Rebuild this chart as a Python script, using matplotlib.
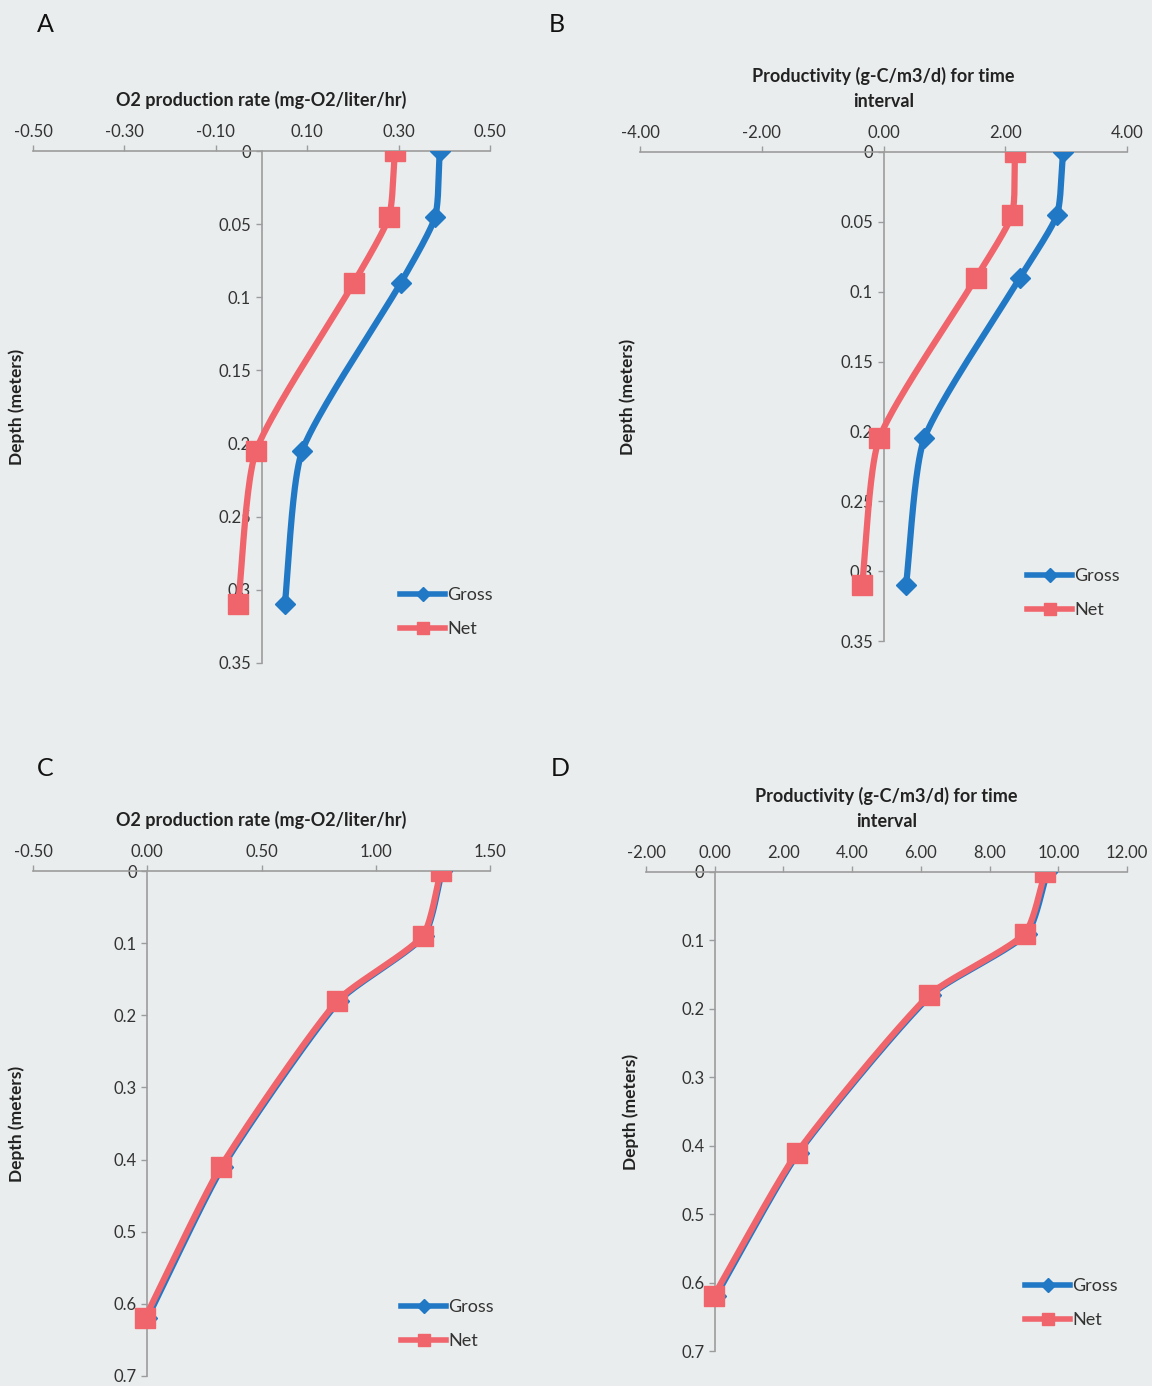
import numpy as np
import matplotlib
matplotlib.use('Agg')
import matplotlib.pyplot as plt
from matplotlib.lines import Line2D
from matplotlib.ticker import FuncFormatter

plt.rcParams['font.family'] = ['Lato', 'DejaVu Sans']

# depth of each sample (m); C/D profiles go twice as deep as A/B
depth_ab = [0, 0.045, 0.09, 0.205, 0.31]
depth_cd = [0, 0.09, 0.18, 0.41, 0.62]

# A: O2 production rate (mg-O2/liter/hr)
gross_a = [0.39, 0.38, 0.305, 0.089, 0.051]
net_a = [0.292, 0.279, 0.202, -0.012, -0.051]
# B: productivity (g-C/m3/d)
gross_b = [2.95, 2.85, 2.24, 0.67, 0.37]
net_b = [2.16, 2.11, 1.52, -0.07, -0.35]
# C: O2 production rate (mg-O2/liter/hr)
gross_c = [1.29, 1.21, 0.84, 0.33, 0.0]
net_c = [1.285, 1.205, 0.832, 0.322, -0.01]
# D: productivity (g-C/m3/d)
gross_d = [9.68, 9.08, 6.29, 2.44, 0.03]
net_d = [9.62, 9.02, 6.24, 2.40, -0.03]

xticks_a = [-0.5, -0.3, -0.1, 0.1, 0.3, 0.5]
xticks_b = [-4, -2, 0, 2, 4]
xticks_c = [-0.5, 0, 0.5, 1.0, 1.5]
xticks_d = [-2, 0, 2, 4, 6, 8, 10, 12]
yticks_ab = [0, 0.05, 0.1, 0.15, 0.2, 0.25, 0.3, 0.35]
yticks_cd = [0, 0.1, 0.2, 0.3, 0.4, 0.5, 0.6, 0.7]

title_o2 = 'O2 production rate (mg-O2/liter/hr)'
title_prod = 'Productivity (g-C/m3/d) for time\ninterval'

BLUE = '#2179c6'
RED = '#f0646c'
AXIS_GREY = '#9c9c9c'
BG = '#eaeded'

W, H = 1152, 1386
fig = plt.figure(figsize=(W / 100, H / 100), dpi=100, facecolor=BG)


def px_axes(x0, x1, y0, y1):
    # axes rectangle given in pixel coords of the picture (y from top)
    return fig.add_axes([x0 / W, 1 - y1 / H, (x1 - x0) / W, (y1 - y0) / H])


def smooth(ax, xs, ys, n=40, k=0.2):
    # excel-like smoothed line: bezier segments, gentle handles along the
    # neighbour direction, length a fraction of the segment
    pts = ax.transData.transform(np.column_stack([xs, ys]))
    p = np.vstack([pts[0], pts, pts[-1]])
    t = np.linspace(0, 1, n)[:, None]
    segs = []
    for i in range(1, len(p) - 2):
        p0, p1, p2, p3 = p[i - 1], p[i], p[i + 1], p[i + 2]
        d12 = np.hypot(*(p2 - p1))
        u1 = (p2 - p0) / np.hypot(*(p2 - p0))
        u2 = (p3 - p1) / np.hypot(*(p3 - p1))
        c1 = p1 + u1 * d12 * k
        c2 = p2 - u2 * d12 * k
        segs.append((1 - t) ** 3 * p1 + 3 * (1 - t) ** 2 * t * c1
                    + 3 * (1 - t) * t ** 2 * c2 + t ** 3 * p2)
    curve = ax.transData.inverted().transform(np.vstack(segs))
    return curve[:, 0], curve[:, 1]


def panel(rect, xlim, xticks, ylim, yticks, title, gross, net, depth, leg_px, ylab_x):
    ax = px_axes(*rect)
    ax.set_facecolor('none')
    ax.set_xlim(*xlim)
    ax.set_ylim(ylim, 0)
    ax.set_xticks(xticks)
    ax.set_yticks(yticks)
    ax.xaxis.set_major_formatter(FuncFormatter(lambda v, p: f'{v:.2f}'))
    ax.yaxis.set_major_formatter(FuncFormatter(lambda v, p: f'{v:g}'))
    ax.xaxis.tick_top()
    ax.xaxis.set_label_position('top')
    ax.spines['bottom'].set_visible(False)
    ax.spines['right'].set_visible(False)
    ax.spines['left'].set_position(('data', 0))
    for s in ('top', 'left'):
        ax.spines[s].set_color(AXIS_GREY)
        ax.spines[s].set_linewidth(1.2)
    ax.tick_params(axis='both', colors=AXIS_GREY, labelcolor='#333333',
                   labelsize=12, length=4, width=1)
    ax.tick_params(axis='x', pad=4)
    ax.set_xlabel(title, fontsize=13, fontweight='bold', labelpad=13,
                  linespacing=1.55, color='#222222')
    ax.set_ylabel('Depth (meters)', fontsize=12.5, fontweight='bold', color='#222222')
    ax.yaxis.set_label_coords(ylab_x, 0.5)

    gx, gy = smooth(ax, gross, depth)
    nx, ny = smooth(ax, net, depth)
    ax.plot(gx, gy, color=BLUE, lw=4.5, zorder=3, solid_capstyle='round')
    ax.plot(gross, depth, ls='none', marker='D', ms=10.5, color=BLUE, zorder=4)
    ax.plot(nx, ny, color=RED, lw=4.5, zorder=5, solid_capstyle='round')
    ax.plot(net, depth, ls='none', marker='s', ms=14, color=RED, zorder=6)

    handles = [Line2D([], [], color=BLUE, lw=4, marker='D', ms=7),
               Line2D([], [], color=RED, lw=4, marker='s', ms=9)]
    fig.legend(handles, ['Gross', 'Net'], loc='center left',
               bbox_to_anchor=(leg_px[0] / W, 1 - leg_px[1] / H),
               frameon=False, fontsize=13, handlelength=2.5, handletextpad=0.1,
               labelspacing=1.0, borderpad=0, borderaxespad=0,
               labelcolor='#333333')
    return ax


panel((33, 490, 151, 663), (-0.5, 0.5), xticks_a, 0.35, yticks_ab,
      title_o2, gross_a, net_a, depth_ab, (400, 612), -0.0175)
panel((640, 1127, 152, 641), (-4, 4), xticks_b, 0.35, yticks_ab,
      title_prod, gross_b, net_b, depth_ab, (1027, 593), -0.008)
panel((33, 490, 871, 1376), (-0.5, 1.5), xticks_c, 0.7, yticks_cd,
      title_o2, gross_c, net_c, depth_cd, (401, 1324), -0.0175)
panel((646, 1127, 872, 1351), (-2, 12), xticks_d, 0.7, yticks_cd,
      title_prod, gross_d, net_d, depth_cd, (1025, 1303), -0.015)

for letter, (x, y) in {'A': (45, 25), 'B': (557, 25),
                       'C': (45, 768), 'D': (560, 768)}.items():
    fig.text(x / W, 1 - y / H, letter, fontsize=18, ha='center', va='center',
             color='#111111')

fig.savefig('out.png', dpi=100, facecolor=BG)
